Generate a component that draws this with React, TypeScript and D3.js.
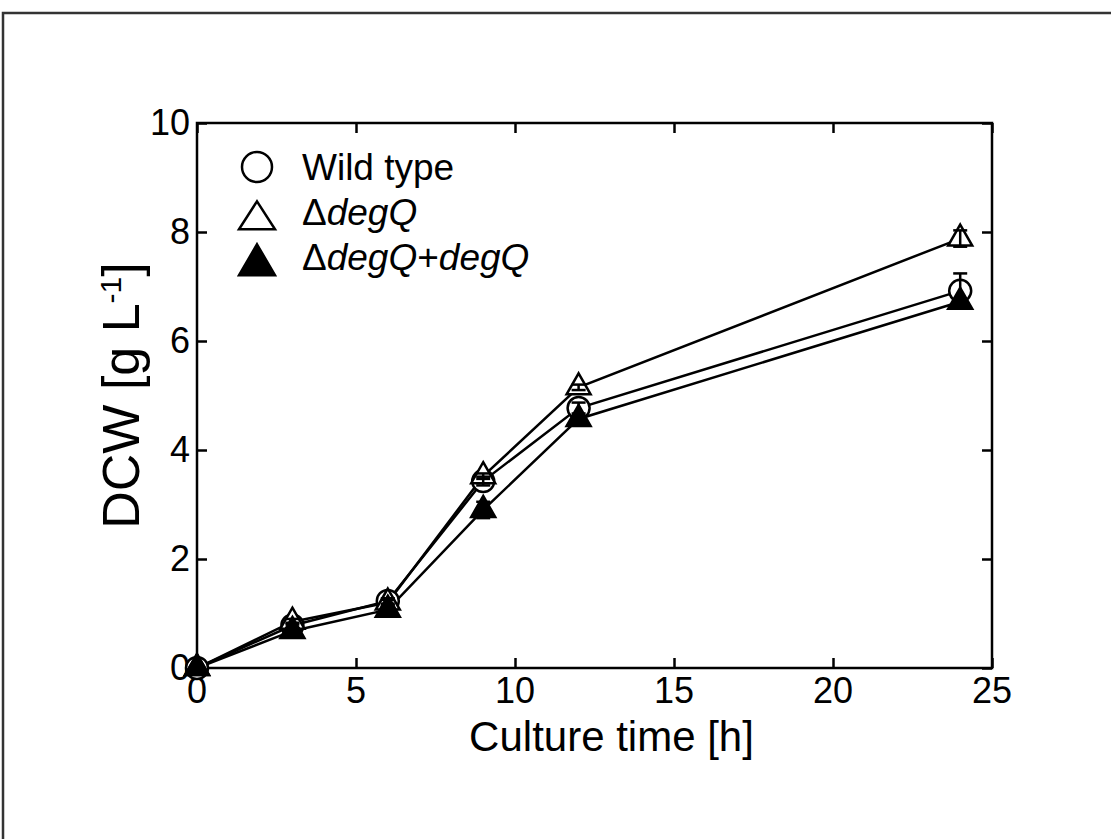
import * as d3 from "d3";
import React, { useRef, useEffect } from "react";

// culture time points [h]
const times = [0, 3, 6, 9, 12, 24];
// DCW [g/L] for each strain, with error bars
const wildType = [0, 0.78, 1.23, 3.43, 4.77, 6.92];
const wildTypeErr = [0.03, 0.05, 0.05, 0.08, 0.1, 0.32];
const degQ = [0, 0.85, 1.2, 3.52, 5.15, 7.88];
const degQErr = [0.03, 0.05, 0.05, 0.05, 0.05, 0.15];
const degQComp = [0, 0.68, 1.07, 2.9, 4.57, 6.72];
const degQCompErr = [0.03, 0.05, 0.05, 0.15, 0.05, 0.05];

const xTicks = [0, 5, 10, 15, 20, 25];
const yTicks = [0, 2, 4, 6, 8, 10];

const FONT = "'Liberation Sans', Arial, sans-serif";

const App = () => {
  const svgRef = useRef(null);

  useEffect(() => {
    const svg = d3.select(svgRef.current);
    svg.selectAll("*").remove();

    const left = 197, right = 992, top = 123, bottom = 668;
    const x = d3.scaleLinear().domain([0, 25]).range([left, right]);
    const y = d3.scaleLinear().domain([0, 10]).range([bottom, top]);

    // outer frame (cropped at right/bottom)
    svg.append("rect")
      .attr("x", 3).attr("y", 13)
      .attr("width", 1200).attr("height", 900)
      .attr("fill", "none").attr("stroke", "#333").attr("stroke-width", 2.5);

    // axes with inward ticks on all four sides
    const tickStyle = (g) => {
      g.select(".domain").remove();
      g.selectAll("line").attr("stroke", "#000").attr("stroke-width", 2.5);
      g.selectAll("text").remove();
    };
    svg.append("g").attr("transform", `translate(0,${bottom})`)
      .call(d3.axisBottom(x).tickValues(xTicks).tickSize(-10)).call(tickStyle);
    svg.append("g").attr("transform", `translate(0,${top})`)
      .call(d3.axisTop(x).tickValues(xTicks).tickSize(-10)).call(tickStyle);
    svg.append("g").attr("transform", `translate(${left},0)`)
      .call(d3.axisLeft(y).tickValues(yTicks).tickSize(-10)).call(tickStyle);
    svg.append("g").attr("transform", `translate(${right},0)`)
      .call(d3.axisRight(y).tickValues(yTicks).tickSize(-10)).call(tickStyle);

    svg.append("rect")
      .attr("x", left).attr("y", top)
      .attr("width", right - left).attr("height", bottom - top)
      .attr("fill", "none").attr("stroke", "#000").attr("stroke-width", 2.5);

    // tick labels
    svg.append("g").selectAll("text").data(xTicks).join("text")
      .attr("x", d => x(d)).attr("y", bottom + 35)
      .attr("text-anchor", "middle")
      .style("font-family", FONT).style("font-size", "36px")
      .text(d => d);
    svg.append("g").selectAll("text").data(yTicks).join("text")
      .attr("x", left - 7).attr("y", d => y(d) + 12)
      .attr("text-anchor", "end")
      .style("font-family", FONT).style("font-size", "36px")
      .text(d => d);

    // axis titles
    svg.append("text")
      .attr("x", (left + right) / 2 + 17).attr("y", 751)
      .attr("text-anchor", "middle")
      .style("font-family", FONT).style("font-size", "42px")
      .text("Culture time [h]");
    const yl = svg.append("text")
      .attr("transform", `translate(139,${(top + bottom) / 2}) rotate(-90)`)
      .attr("text-anchor", "middle")
      .style("font-family", FONT).style("font-size", "52px");
    yl.append("tspan").text("DCW [g L");
    yl.append("tspan").attr("dy", -18).style("font-size", "30px").text("-1");
    yl.append("tspan").attr("dy", 18).text("]");

    const series = [
      { vals: wildType, err: wildTypeErr, shape: "circle", fill: "#fff" },
      { vals: degQ, err: degQErr, shape: "triangle", fill: "#fff" },
      { vals: degQComp, err: degQCompErr, shape: "triangle", fill: "#000" },
    ];

    const line = d3.line().x(d => x(d[0])).y(d => y(d[1]));
    const tri = (cx, cy, w, h) =>
      `M${cx},${cy - h * 2 / 3}L${cx + w / 2},${cy + h / 3}L${cx - w / 2},${cy + h / 3}Z`;

    const plot = svg.append("g");
    series.forEach(s => {
      plot.append("path")
        .attr("d", line(times.map((t, i) => [t, s.vals[i]])))
        .attr("fill", "none").attr("stroke", "#000").attr("stroke-width", 2.5);
    });
    series.forEach(s => {
      times.forEach((t, i) => {
        const cx = x(t), cy = y(s.vals[i]);
        if (s.shape === "circle") {
          plot.append("circle").attr("cx", cx).attr("cy", cy).attr("r", 11)
            .attr("fill", s.fill).attr("stroke", "#000").attr("stroke-width", 2.5);
        } else {
          plot.append("path").attr("d", tri(cx, cy, 24, 21))
            .attr("fill", s.fill).attr("stroke", "#000").attr("stroke-width", 2.5)
            .attr("stroke-linejoin", "miter");
        }
      });
    });
    // error bars
    series.forEach(s => {
      times.forEach((t, i) => {
        const cx = x(t);
        const y1 = y(s.vals[i] + s.err[i]), y2 = y(s.vals[i] - s.err[i]);
        const g = plot.append("g").attr("stroke", "#000").attr("stroke-width", 2.5);
        g.append("line").attr("x1", cx).attr("x2", cx).attr("y1", y1).attr("y2", y2);
        g.append("line").attr("x1", cx - 7).attr("x2", cx + 7).attr("y1", y1).attr("y2", y1);
        g.append("line").attr("x1", cx - 7).attr("x2", cx + 7).attr("y1", y2).attr("y2", y2);
      });
    });

    // legend
    const lg = svg.append("g");
    lg.append("circle").attr("cx", 257).attr("cy", 167).attr("r", 15)
      .attr("fill", "#fff").attr("stroke", "#000").attr("stroke-width", 2.5);
    lg.append("path").attr("d", tri(257, 220, 36, 28))
      .attr("fill", "#fff").attr("stroke", "#000").attr("stroke-width", 2.5);
    lg.append("path").attr("d", tri(257, 265, 36, 31))
      .attr("fill", "#000").attr("stroke", "#000").attr("stroke-width", 2.5);

    const legendText = (yy, parts) => {
      const t = lg.append("text").attr("x", 302).attr("y", yy)
        .style("font-family", FONT).style("font-size", "37px");
      parts.forEach(([txt, it]) => {
        t.append("tspan").style("font-style", it ? "italic" : "normal").text(txt);
      });
    };
    legendText(180, [["Wild type", false]]);
    legendText(225, [["\u0394", false], ["degQ", true]]);
    legendText(270, [["\u0394", false], ["degQ", true], ["+", false], ["degQ", true]]);
  });

  return (
    <svg ref={svgRef} width="1111" height="839"
      style={{ position: "absolute", left: 0, top: 0, background: "#fff" }} />
  );
};

export default App;
